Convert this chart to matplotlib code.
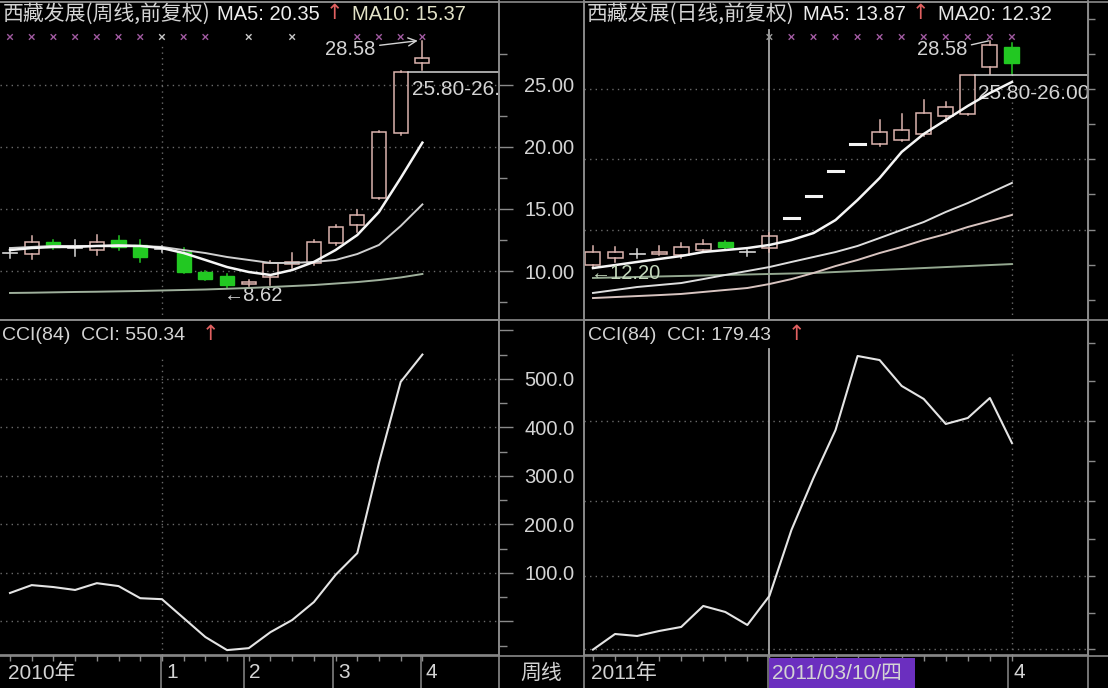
"""
Two stock-software panels side by side: weekly and daily K-line charts of
西藏发展 (MA lines, candles) with a CCI(84) sub-panel and a date strip.
"""

import matplotlib.pyplot as plt
import matplotlib.transforms as mtransforms
from matplotlib.patches import Rectangle

W, H = 1108, 688

# ── Weekly chart (left) ────────────────────────────────────────────────────────
wk_open  = [11.45, 11.37, 12.34, 11.85, 11.69, 12.50, 12.10, 11.77, 11.53, 9.92,
            9.60, 8.95, 9.52, 10.60, 10.65, 12.26, 13.71, 15.89, 21.13, 26.77]
wk_high  = [11.85, 12.82, 12.50, 12.50, 12.90, 12.82, 12.50, 12.02, 11.85, 10.00,
            9.75, 9.30, 10.80, 11.45, 12.50, 13.70, 14.92, 21.30, 26.10, 28.58]
wk_low   = [11.05, 10.97, 11.77, 11.21, 11.29, 11.69, 10.73, 11.53, 9.85, 9.27,
            8.62, 8.80, 8.87, 10.24, 10.50, 12.10, 13.15, 15.80, 21.00, 26.21]
wk_close = [11.45, 12.34, 11.94, 11.85, 12.34, 11.94, 11.13, 11.77, 9.92, 9.35,
            8.87, 9.11, 10.65, 10.70, 12.34, 13.55, 14.52, 21.21, 26.05, 27.18]

wk_ma5  = [11.69, 11.85, 11.94, 11.94, 12.02, 12.02, 12.02, 11.85, 11.45, 10.89,
           10.32, 9.92, 9.68, 10.08, 10.73, 11.69, 12.90, 14.76, 17.50, 20.35]
wk_ma10 = [11.85, 11.94, 12.02, 12.02, 12.02, 12.10, 12.02, 11.94, 11.69, 11.45,
           11.13, 10.89, 10.65, 10.65, 10.73, 10.89, 11.37, 12.10, 13.63, 15.37]
wk_ma30 = [8.23, 8.25, 8.28, 8.31, 8.33, 8.36, 8.39, 8.43, 8.47, 8.51,
           8.57, 8.63, 8.71, 8.79, 8.87, 8.99, 9.11, 9.27, 9.48, 9.76]

wk_cci = [58.8, 75, 71, 65, 79, 73, 48, 46, 7, -32,
          -59, -55, -22, 3, 40, 96, 141, 327, 494, 550.34]

# ── Daily chart (right) ────────────────────────────────────────────────────────
dy_open  = [10.48, 11.05, 11.37, 11.37, 11.29, 11.69, 12.34, 11.53, 11.85, 14.27,
            16.08, 18.06, 20.24, 20.24, 20.60, 21.05, 22.50, 22.66, 26.45, 28.06]
dy_high  = [12.00, 11.94, 11.77, 12.02, 12.26, 12.50, 12.42, 11.69, 13.06, 14.27,
            16.08, 18.06, 20.24, 22.18, 22.66, 23.79, 23.60, 25.80, 28.58, 28.39]
dy_low   = [10.24, 10.73, 11.05, 11.29, 11.05, 11.53, 11.77, 11.21, 11.53, 14.27,
            16.08, 18.06, 20.24, 20.08, 20.50, 20.90, 22.10, 22.60, 25.89, 25.89]
dy_close = [11.53, 11.53, 11.37, 11.53, 11.94, 12.18, 11.94, 11.53, 12.82, 14.27,
            16.08, 18.06, 20.24, 21.21, 21.37, 22.74, 23.23, 25.77, 28.23, 26.77]

dy_ma5  = [10.24, 10.48, 10.73, 10.97, 11.21, 11.53, 11.69, 11.85, 12.10, 12.50,
           13.06, 14.11, 15.73, 17.50, 19.60, 21.05, 22.18, 23.31, 24.35, 25.24]
dy_ma10 = [8.23, 8.47, 8.71, 8.87, 9.03, 9.35, 9.68, 10.00, 10.32, 10.73,
           11.13, 11.53, 12.02, 12.66, 13.31, 13.95, 14.76, 15.48, 16.29, 17.10]
dy_ma20 = [7.82, 7.90, 7.98, 8.06, 8.15, 8.31, 8.47, 8.63, 8.95, 9.35,
           9.84, 10.40, 10.89, 11.45, 11.94, 12.50, 12.98, 13.55, 14.03, 14.52]
dy_ma60 = [9.44, 9.48, 9.52, 9.56, 9.60, 9.64, 9.68, 9.72, 9.76, 9.80,
           9.84, 9.92, 10.00, 10.08, 10.16, 10.24, 10.32, 10.40, 10.48, 10.56]

dy_cci = [-58, -25.8, -29.9, -19.6, -11.3, 32, 19.6, -7.2, 52.6, 188.7,
          295.9, 394.8, 547.4, 539, 485.6, 458.8, 407.2, 419.6, 460.8, 368]

# axis labels / grid levels
price_ticks = [10, 15, 20, 25]
cci_ticks   = [100, 200, 300, 400, 500]
wk_price_grid = [10, 15, 20, 25]
dy_price_grid = [13.31, 19.03, 24.64]
wk_cci_grid = [0, 100, 200, 300, 400, 500]
dy_cci_grid = [-57, 93, 248, 413]

wk_marks = [0, 1, 2, 3, 4, 5, 6, 7, 8, 9, 11, 13, 16, 17, 18, 19]
dy_marks = [8, 9, 10, 11, 12, 13, 14, 15, 16, 17, 18, 19]

# ── Style ──────────────────────────────────────────────────────────────────────
BG     = "#000000"
FG     = "#d4d4d4"
BORDER = "#8a8a8a"
GRID   = "#6a6a6a"
UP     = "#dcb4ae"
DOWN   = "#22c822"
DOJI   = "#d8d8d8"
RED    = "#e06060"
PURPLE = "#a05aa0"

LATIN = ["Liberation Sans", "Noto Sans CJK SC", "DejaVu Sans"]
CJK   = ["Noto Sans CJK SC", "DejaVu Sans"]

PRICE_LIM = (6.05, 31.69)
CCI_LIM   = (-69.1, 621.6)


def px_rect(x0, y0, x1, y1):
    return [x0 / W, 1 - y1 / H, (x1 - x0) / W, (y1 - y0) / H]


def style(ax):
    ax.set_facecolor(BG)
    for s in ax.spines.values():
        s.set_color(BORDER)
        s.set_linewidth(1.2)
    ax.tick_params(colors=BORDER, labelcolor=FG, labelsize=14.5)
    ax.set_xticks([])


def draw_candles(ax, o, h, l, c, w):
    for i, (op, hi, lo, cl) in enumerate(zip(o, h, l, c)):
        if cl > op:
            ax.add_patch(Rectangle((i - w / 2, op), w, cl - op, fill=False,
                                   ec=UP, lw=1.1, zorder=3))
            ax.plot([i, i], [cl, hi], color=UP, lw=1.1, zorder=3)
            ax.plot([i, i], [lo, op], color=UP, lw=1.1, zorder=3)
        elif cl < op:
            ax.plot([i, i], [lo, hi], color=DOWN, lw=1.1, zorder=3)
            ax.add_patch(Rectangle((i - w / 2, cl), w, op - cl, fc=DOWN,
                                   ec=DOWN, lw=1, zorder=3))
        elif hi == lo:
            ax.plot([i - w / 2, i + w / 2], [op, op], color="#f4f4f4",
                    lw=2.2, zorder=3)
        else:
            ax.plot([i - w / 2, i + w / 2], [op, op], color=DOJI, lw=1.2, zorder=3)
            ax.plot([i, i], [lo, hi], color=DOJI, lw=1.1, zorder=3)


def hgrid(ax, levels):
    for lv in levels:
        ax.axhline(lv, color=GRID, lw=1.0, ls=(0, (1, 3)), zorder=1)


fig = plt.figure(figsize=(W / 100, H / 100), dpi=100, facecolor=BG)

axLP = fig.add_axes(px_rect(0, 2, 499, 320))
axLC = fig.add_axes(px_rect(0, 320, 499, 655))
axRP = fig.add_axes(px_rect(584, 2, 1088, 320))
axRC = fig.add_axes(px_rect(584, 320, 1088, 655))
for ax in (axLP, axLC, axRP, axRC):
    style(ax)

wk_x = range(len(wk_open))
dy_x = range(len(dy_open))

# ── Left price panel ───────────────────────────────────────────────────────────
ax = axLP
ax.set_xlim(-0.461, 22.53)
ax.set_ylim(*PRICE_LIM)
ax.spines["left"].set_visible(False)
hgrid(ax, wk_price_grid)
ax.axvline(7, ymax=0.87, color=GRID, lw=1.0, ls=(0, (1, 3)), zorder=1)
draw_candles(ax, wk_open, wk_high, wk_low, wk_close, 0.65)
ax.plot(wk_x, wk_ma30, color="#9fb09c", lw=1.4, zorder=4)
ax.plot(wk_x, wk_ma10, color="#cfcfcf", lw=1.4, zorder=4)
ax.plot(wk_x, wk_ma5, color="#f6f6f6", lw=1.8, zorder=5)
ax.yaxis.tick_right()
ax.set_yticks(price_ticks)
ax.set_yticks([7.5, 12.5, 17.5, 22.5, 27.5], minor=True)
ax.tick_params(axis="y", which="major", length=10, width=1, labelright=False)
ax.tick_params(axis="y", which="minor", length=6, width=1, colors=BORDER)
trans = mtransforms.blended_transform_factory(ax.transData, ax.transAxes)
ax.scatter(wk_marks, [0.89] * len(wk_marks), transform=trans, marker="x", s=16,
           lw=1, color=[("#c8c8c8" if i in (7, 11, 13) else PURPLE) for i in wk_marks],
           zorder=5, clip_on=False)
ax.annotate("28.58", xy=(19 - 0.15, wk_high[19]), xytext=(-94, -9),
            textcoords="offset pixels", ha="left", va="center", color=FG,
            fontsize=14.5, family=LATIN,
            arrowprops=dict(arrowstyle="->", color=FG, lw=1, shrinkA=1,
                            shrinkB=1, relpos=(1, 0.7)))
ax.annotate("←8.62", xy=(10, wk_low[10]), xytext=(-3, -7),
            textcoords="offset pixels", ha="left", va="center", color=FG,
            fontsize=14.5, family=LATIN)
ax.plot([18 + 0.33, 23], [wk_close[18], wk_close[18]], color=FG, lw=1.1,
        zorder=4)
ax.annotate("25.80-26.00", xy=(18 + 0.33, wk_close[18]), xytext=(4, -18),
            textcoords="offset pixels", ha="left", va="center", color=FG,
            fontsize=15, family=LATIN, annotation_clip=False, clip_on=True)

# ── Left CCI panel ─────────────────────────────────────────────────────────────
ax = axLC
ax.set_xlim(-0.461, 22.53)
ax.set_ylim(*CCI_LIM)
ax.spines["left"].set_visible(False)
hgrid(ax, wk_cci_grid)
ax.axvline(7, ymax=0.896, color=GRID, lw=1.0, ls=(0, (1, 3)), zorder=1)
ax.plot(wk_x, wk_cci, color="#e4e4e4", lw=1.5, zorder=4)
ax.yaxis.tick_right()
ax.set_yticks([0, 100, 200, 300, 400, 500, 600])
ax.set_yticks([-50, 50, 150, 250, 350, 450, 550], minor=True)
ax.tick_params(axis="y", which="major", length=10, width=1, labelright=False)
ax.tick_params(axis="y", which="minor", length=6, width=1, colors=BORDER)
ax.set_xticks(list(wk_x))
ax.tick_params(axis="x", length=4, width=1, labelbottom=False)

# ── Right price panel ──────────────────────────────────────────────────────────
ax = axRP
ax.set_xlim(-0.408, 22.45)
ax.set_ylim(*PRICE_LIM)
hgrid(ax, dy_price_grid)
ax.axvline(8, ymax=0.912, color="#a8a8a8", lw=1.3, zorder=2)
ax.axvline(19, ymax=0.78, color=GRID, lw=1.0, ls=(0, (1, 3)), zorder=1)
draw_candles(ax, dy_open, dy_high, dy_low, dy_close, 0.68)
ax.plot(dy_x, dy_ma60, color="#94a890", lw=1.4, zorder=4)
ax.plot(dy_x, dy_ma20, color="#d8c4c0", lw=1.4, zorder=4)
ax.plot(dy_x, dy_ma10, color="#dedede", lw=1.4, zorder=4)
ax.plot(dy_x, dy_ma5, color="#f6f6f6", lw=1.8, zorder=5)
ax.set_yticks(price_ticks)
ax.set_yticklabels([f"{v:.2f}" for v in price_ticks], family=LATIN)
ax.tick_params(axis="y", which="major", left=True, length=0, pad=7)
rt = ax.secondary_yaxis("right")
rt.set_yticks([7.66, 10.48, 13.31, 16.21, 19.03, 21.85, 24.64, 27.5, 30.3])
rt.tick_params(length=5, width=1, colors=BORDER, labelright=False)
rt.spines["right"].set_color(BORDER)
trans = mtransforms.blended_transform_factory(ax.transData, ax.transAxes)
ax.scatter(dy_marks, [0.89] * len(dy_marks), transform=trans, marker="x", s=16,
           lw=1, color=[("#9a9a9a" if i == 8 else PURPLE) for i in dy_marks],
           zorder=5, clip_on=False)
ax.annotate("28.58", xy=(18, dy_high[18]), xytext=(-73, -9),
            textcoords="offset pixels", ha="left", va="center", color=FG,
            fontsize=14.5, family=LATIN,
            arrowprops=dict(arrowstyle="-", color=FG, lw=1, shrinkA=1,
                            shrinkB=1, relpos=(1, 0.7)))
ax.annotate("←12.20", xy=(0, dy_low[0]), xytext=(-2, -5),
            textcoords="offset pixels", ha="left", va="center",
            color="#c4d8bc", fontsize=14.5, family=LATIN, zorder=6)
ax.plot([17 + 0.34, 23], [dy_close[17], dy_close[17]], color=FG, lw=1.1,
        zorder=4)
ax.annotate("25.80-26.00", xy=(17 + 0.34, dy_close[17]), xytext=(3, -18),
            textcoords="offset pixels", ha="left", va="center", color=FG,
            fontsize=15, family=LATIN, annotation_clip=False, clip_on=True)

# ── Right CCI panel ────────────────────────────────────────────────────────────
ax = axRC
ax.set_xlim(-0.408, 22.45)
ax.set_ylim(*CCI_LIM)
hgrid(ax, dy_cci_grid)
ax.axvline(8, ymax=0.913, color="#a8a8a8", lw=1.3, zorder=2)
ax.axvline(19, ymax=0.9, color=GRID, lw=1.0, ls=(0, (1, 3)), zorder=1)
ax.plot(dy_x, dy_cci, color="#e4e4e4", lw=1.5, zorder=4)
ax.set_yticks(cci_ticks)
ax.set_yticklabels([f"{v:.1f}" for v in cci_ticks], family=LATIN)
ax.tick_params(axis="y", which="major", length=0, pad=7)
rt = ax.secondary_yaxis("right")
rt.set_yticks([-57, 18, 93, 170, 248, 330, 413, 495, 575])
rt.tick_params(length=5, width=1, colors=BORDER, labelright=False)
rt.spines["right"].set_color(BORDER)
ax.set_xticks(list(dy_x))
ax.tick_params(axis="x", length=4, width=1, labelbottom=False)

# ── Overlay: titles, borders, date strip (pixel coordinates) ─────────────────
ov = fig.add_axes([0, 0, 1, 1])
ov.set_xlim(0, W)
ov.set_ylim(H, 0)
ov.axis("off")
ov.patch.set_alpha(0)
ov.set_zorder(10)

for x in (499, 584, 1088):
    ov.plot([x, x], [0, H], color=BORDER, lw=1.2)
for y in (1.5, 320, 655.5):
    ov.plot([0, W], [y, y], color=BORDER, lw=1.2)

titles = [
    (3, 14, "西藏发展(周线,前复权)", CJK, 15, FG),
    (217, 14, "MA5: 20.35", LATIN, 14.5, "#eeeeee"),
    (352, 14, "MA10: 15.37", LATIN, 14.5, "#e2e2c8"),
    (587, 14, "西藏发展(日线,前复权)", CJK, 15, FG),
    (803, 14, "MA5: 13.87", LATIN, 14.5, "#eeeeee"),
    (938, 14, "MA20: 12.32", LATIN, 14.5, "#e6e6e6"),
    (2, 335, "CCI(84)  CCI: 550.34", LATIN, 14, FG),
    (588, 335, "CCI(84)  CCI: 179.43", LATIN, 14, FG),
]
for x, y, s, fam, fs, col in titles:
    ov.text(x, y, s, family=fam, fontsize=fs, color=col, va="center", ha="left")
for x, y in ((326, 13), (912, 13), (202, 334), (788, 334)):
    ov.text(x, y, "↑", family=["DejaVu Sans"], fontsize=15, color=RED,
            va="center", ha="left")

# date strip
for x in (161, 244, 333, 421, 768, 1008):
    ov.plot([x, x], [656, H], color=BORDER, lw=1.1)
ov.add_patch(Rectangle((769, 658), 146, 30, fc="#6b2fbf", ec="none"))
strip = [
    (8, "2010年"), (166, "1"), (249, "2"), (338, "3"), (426, "4"),
    (520, "周线"), (591, "2011年"), (772, "2011/03/10/四"), (1013, "4"),
]
for x, s in strip:
    ov.text(x, 673, s, family=LATIN, fontsize=15, color=FG, va="center",
            ha="left")

fig.savefig("out.png", dpi=100, facecolor=BG)
